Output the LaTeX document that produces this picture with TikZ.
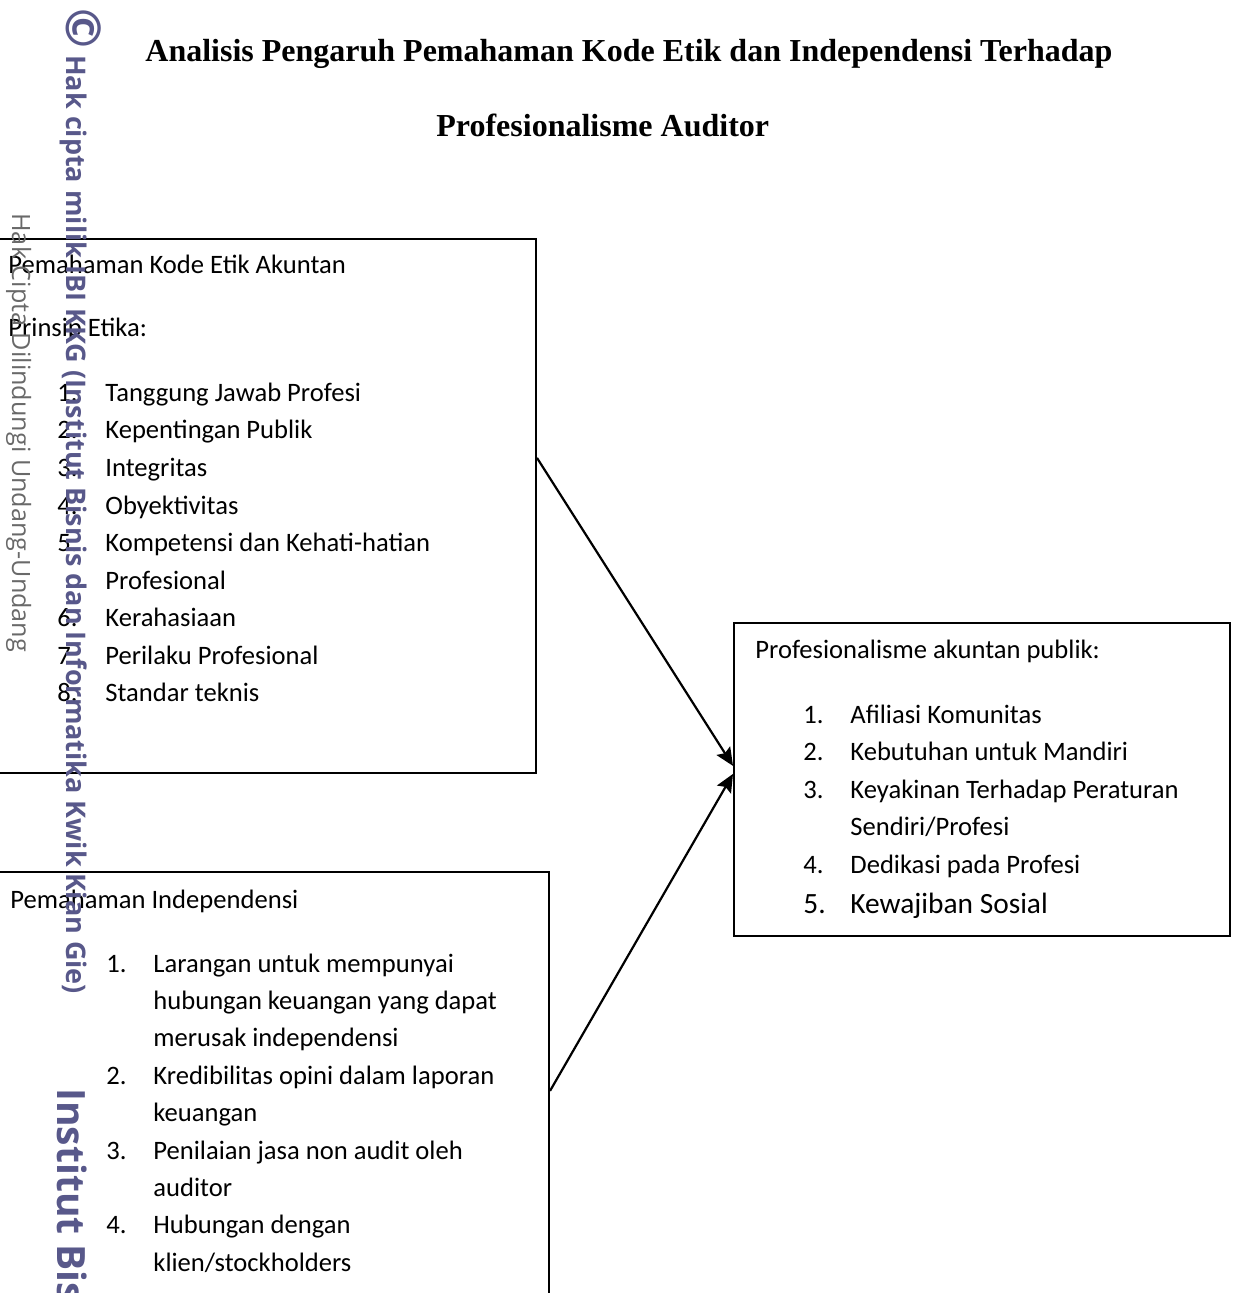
\documentclass[tikz,border=0pt]{standalone}
\usepackage{fontspec}
\setmainfont{Carlito}
\newfontfamily\titlefont{Liberation Serif}
\newfontfamily\markfont{Open Sans}
\usetikzlibrary{arrows.meta}
\definecolor{markblue}{RGB}{88,88,138}
\definecolor{markgray}{RGB}{105,105,105}
\begin{document}
\begin{tikzpicture}[x=0.5pt,y=-0.5pt,
  box/.style={draw,line width=0.9pt,inner sep=0pt},
  txt/.style={anchor=base west,inner sep=0pt,font=\fontsize{13.3}{16}\selectfont},
  big/.style={txt,font=\fontsize{14.7}{17}\selectfont},
  head/.style={anchor=base west,inner sep=0pt,font=\titlefont\bfseries\fontsize{16}{19}\selectfont},
  link/.style={line width=1.1pt,-{Stealth[length=9pt,width=8pt,inset=1.5pt]}},
  wmark/.style={rotate=-90,anchor=base west,inner sep=0pt,text=markblue,font=\markfont\bfseries\fontsize{13.5}{16}\selectfont}]
\useasboundingbox (0,0) rectangle (1237,1293);

% title
\node[head] (title1) at (145,62) {Analisis Pengaruh Pemahaman Kode Etik dan Independensi Terhadap};
\node[head] (title2) at (436,137) {Profesionalisme Auditor};

% boxes
\node[box,anchor=north east,minimum width=280pt,minimum height=267pt] (kode) at (537,238) {};
\node[box,anchor=north east,minimum width=290pt,minimum height=230pt] (indep) at (550,871) {};
\node[box,anchor=north west,minimum width=248pt,minimum height=156.5pt] (prof) at (733,622) {};

% kode etik
\node[txt] (kode-head) at (8,274) {Pemahaman Kode Etik Akuntan};
\node[txt] (kode-sub) at (8,337) {Prinsip Etika:};
\foreach \no/\lbl [count=\i from 0] in {1./Tanggung Jawab Profesi, 2./Kepentingan Publik,
    3./Integritas, 4./Obyektivitas, 5./Kompetensi dan Kehati-hatian, /Profesional,
    6./Kerahasiaan, 7./Perilaku Profesional, 8./Standar teknis}{
  \node[txt] (kode-no\i) at (57,{401.5+37.5*\i}) {\no};
  \node[txt] (kode-\i) at (105,{401.5+37.5*\i}) {\lbl};
}

% independensi
\node[txt] (indep-head) at (10,908) {Pemahaman Independensi};
\foreach \no/\lbl [count=\i from 0] in {1./Larangan untuk mempunyai, /hubungan keuangan yang dapat,
    /merusak independensi, 2./Kredibilitas opini dalam laporan, /keuangan,
    3./Penilaian jasa non audit oleh, /auditor, 4./Hubungan dengan, /{klien/stockholders}}{
  \node[txt] (indep-no\i) at (106,{972+37.4*\i}) {\no};
  \node[txt] (indep-\i) at (153,{972+37.4*\i}) {\lbl};
}

% profesionalisme
\node[txt] (prof-head) at (755,658) {Profesionalisme akuntan publik:};
\foreach \no/\lbl [count=\i from 0] in {1./Afiliasi Komunitas, 2./Kebutuhan untuk Mandiri,
    3./Keyakinan Terhadap Peraturan, /{Sendiri/Profesi}, 4./Dedikasi pada Profesi}{
  \node[txt] (prof-no\i) at (803,{723+37.5*\i}) {\no};
  \node[txt] (prof-\i) at (850,{723+37.5*\i}) {\lbl};
}
\node[big] (prof-no5) at (803,913) {5.};
\node[big] (prof-5) at (850,913) {Kewajiban Sosial};

% arrows
\draw[link] ([yshift=24pt]kode.east) -- ([yshift=6.75pt]prof.west);
\draw[link] ([yshift=5.5pt]indep.east) -- ([yshift=2.75pt]prof.west);

% watermark
\node[wmark] (wm-hak) at (66,8) {{\fontsize{24}{24}\selectfont ©} Hak cipta milik IBI KKG (Institut Bisnis dan Informatika Kwik Kian Gie)};
\node[wmark,text=markgray,font=\markfont\fontsize{12.6}{15}\selectfont] (wm-uu) at (12,213) {Hak Cipta Dilindungi Undang-Undang};
\node[wmark,font=\markfont\bfseries\fontsize{19.5}{22}\selectfont] (wm-ibi) at (57,1088) {Institut Bis};
\end{tikzpicture}
\end{document}
